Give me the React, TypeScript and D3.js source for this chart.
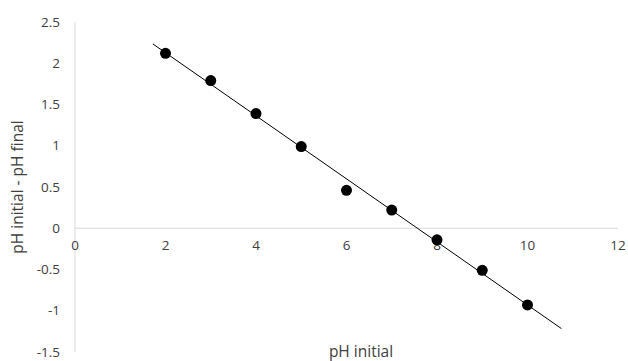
import * as d3 from "d3";

const phInitial = [2, 3, 4, 5, 6, 7, 8, 9, 10];
const phDelta = [2.12, 1.79, 1.39, 0.99, 0.46, 0.22, -0.14, -0.51, -0.93];
const xTicks = [0, 2, 4, 6, 8, 10, 12];
const yTicks = [-1.5, -1, -0.5, 0, 0.5, 1, 1.5, 2, 2.5];
const trendRange = [1.72, 10.75];

const W = 628;
const H = 361;
const FONT = "'Open Sans', 'Liberation Sans', sans-serif";

export default function App() {
  const x = d3.scaleLinear().domain([0, 12]).range([75, 618]);
  const y = d3.scaleLinear().domain([-1.5, 2.5]).range([352, 22]);

  // least-squares linear trend
  const mx = d3.mean(phInitial)!;
  const my = d3.mean(phDelta)!;
  const sxy = d3.sum(phInitial, (v, i) => (v - mx) * (phDelta[i] - my));
  const sxx = d3.sum(phInitial, (v) => (v - mx) ** 2);
  const slope = sxy / sxx;
  const icpt = my - slope * mx;
  const trend = trendRange.map((v) => [v, icpt + slope * v] as [number, number]);
  const line = d3.line<[number, number]>().x((d) => x(d[0])).y((d) => y(d[1]));

  return (
    <svg
      width={W}
      height={H}
      style={{ position: "absolute", left: 0, top: 0, background: "#fff" }}
      fontFamily={FONT}
    >
      <line x1={x(0)} x2={x(0)} y1={y(2.5)} y2={y(-1.5)} stroke="#d9d9d9" strokeWidth={1} />
      <line x1={x(0)} x2={x(12)} y1={y(0)} y2={y(0)} stroke="#d9d9d9" strokeWidth={1} />
      {yTicks.map((t) => (
        <text key={t} x={60} y={y(t)} dy="0.35em" textAnchor="end" fontSize={13.5} fill="#404040">
          {t}
        </text>
      ))}
      {xTicks.map((t) => (
        <text key={t} x={x(t)} y={y(0) + 22} textAnchor="middle" fontSize={13.5} fill="#404040">
          {t}
        </text>
      ))}
      <path d={line(trend) ?? ""} stroke="#000" strokeWidth={1} fill="none" />
      {phInitial.map((v, i) => (
        <circle key={v} cx={x(v)} cy={y(phDelta[i])} r={5.5} fill="#000" />
      ))}
      <text x={361} y={357} textAnchor="middle" fontSize={15.5} fill="#404040">
        pH initial
      </text>
      <text
        transform={`translate(23,187) rotate(-90)`}
        textAnchor="middle"
        fontSize={15.5}
        fill="#404040"
      >
        pH initial - pH final
      </text>
    </svg>
  );
}
